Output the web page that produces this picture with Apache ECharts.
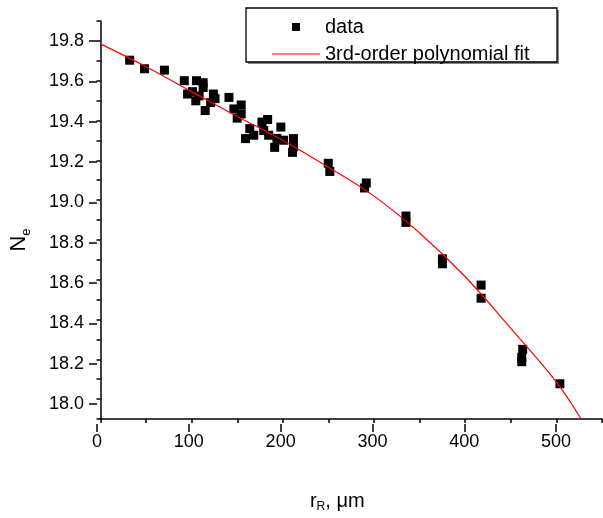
<!DOCTYPE html>
<html>
<head>
<meta charset="utf-8">
<script src="https://cdn.jsdelivr.net/npm/echarts@6/dist/echarts.min.js"></script>
<style>
html,body{margin:0;padding:0;background:#fff;}
#chart{width:603px;height:518px;}
</style>
</head>
<body>
<div id="chart"></div>
<script>
// ---- data ----
const dataR = [32, 48.3, 70.1, 91.9, 105.3, 112.6, 112.6, 95.5, 100.9, 104.5, 114.8, 123.8, 125.6, 120.8, 108.2,
  140.9, 146.3, 154.3, 149.9, 154.3, 163.7, 159, 168.1, 177.1, 183.3, 179, 184.4, 191, 197.8, 193.5, 200.8,
  211.6, 211.6, 210.6, 249.8, 251.5, 291.5, 289.6, 335, 335, 375, 375, 417.4, 417.4, 463, 462, 462, 503.8];
const dataN = [19.703, 19.660, 19.653, 19.600, 19.600, 19.590, 19.566, 19.533, 19.545, 19.499, 19.450, 19.533, 19.510, 19.490, 19.524,
  19.516, 19.458, 19.478, 19.412, 19.433, 19.359, 19.309, 19.326, 19.392, 19.405, 19.350, 19.326, 19.265, 19.367, 19.310, 19.301,
  19.309, 19.268, 19.240, 19.185, 19.144, 19.086, 19.061, 18.920, 18.888, 18.705, 18.680, 18.573, 18.507, 18.250, 18.210, 18.188, 18.077];
const fitR = [0, 50, 100, 150, 200, 250, 300, 350, 400, 450, 500, 527];
const fitN = [19.785, 19.670, 19.545, 19.420, 19.300, 19.165, 19.020, 18.835, 18.615, 18.355, 18.085, 17.900];
const xMajorTicks = [0, 100, 200, 300, 400, 500];
const yMajorTicks = [18.0, 18.2, 18.4, 18.6, 18.8, 19.0, 19.2, 19.4, 19.6, 19.8];
const seriesNames = ['data', '3rd-order polynomial fit'];

const FONT = 'Liberation Sans, Arial, sans-serif';
const scatterData = dataR.map((r, i) => [r, dataN[i]]);
const fitData = fitR.map((r, i) => [r, fitN[i]]);

// layout
const L = 97, R = 1, T = 21, B = 94;
const pxPerY = (518 - T - B) / 2.0;       // y: 17.9..19.9
const pxPerX = (603 - L - R) / 550;       // x: 0..550
const yOff = 0.1 * pxPerY;
const xRightOff = 50 * pxPerX;

const axisLineStyle = {color: '#000', width: 1.5};

const chart = echarts.init(document.getElementById('chart'), null, {renderer: 'canvas'});
chart.setOption({
  animation: false,
  backgroundColor: '#fff',
  grid: [
    {left: L, right: R, top: T, bottom: B},
    {left: L, right: R + xRightOff, top: T + yOff, bottom: B + yOff}
  ],
  xAxis: [
    {
      gridIndex: 0, type: 'value', min: 0, max: 550, interval: 50,
      axisLine: {show: true, lineStyle: axisLineStyle},
      axisTick: {show: true, length: 4, lineStyle: axisLineStyle},
      axisLabel: {show: false}, splitLine: {show: false},
      name: '{a|r}{b|R}{a|, μm}', nameLocation: 'middle', nameGap: 70,
      nameTextStyle: {padding: [0, 28, 0, 0], rich: {
        a: {fontSize: 20, fontFamily: FONT, color: '#000'},
        b: {fontSize: 12, fontFamily: FONT, color: '#000', padding: [12, 0, 0, 0]}
      }}
    },
    {
      gridIndex: 1, type: 'value', min: xMajorTicks[0], max: xMajorTicks[xMajorTicks.length - 1], interval: 100,
      offset: yOff,
      axisLine: {show: false},
      axisTick: {show: true, length: 8, lineStyle: axisLineStyle},
      axisLabel: {show: true, fontSize: 18, fontFamily: FONT, color: '#000', margin: 9},
      splitLine: {show: false}
    }
  ],
  yAxis: [
    {
      gridIndex: 0, type: 'value', min: 17.9, max: 19.9, interval: 0.1,
      axisLine: {show: true, lineStyle: axisLineStyle},
      axisTick: {show: true, length: 4, lineStyle: axisLineStyle},
      axisLabel: {show: false}, splitLine: {show: false},
      name: '{a|N}{b|e}', nameLocation: 'middle', nameGap: 68, nameRotate: 90,
      nameTextStyle: {padding: [0, 40, 0, 0], rich: {
        a: {fontSize: 22, fontFamily: FONT, color: '#000'},
        b: {fontSize: 13, fontFamily: FONT, color: '#000', padding: [14, 0, 0, 0]}
      }}
    },
    {
      gridIndex: 1, type: 'value', min: yMajorTicks[0], max: yMajorTicks[yMajorTicks.length - 1], interval: 0.2,
      axisLine: {show: false},
      axisTick: {show: true, length: 8, lineStyle: axisLineStyle},
      axisLabel: {show: true, fontSize: 18, fontFamily: FONT, color: '#000', margin: 13,
        formatter: v => v.toFixed(1)},
      splitLine: {show: false}
    }
  ],
  legend: {
    orient: 'vertical', left: 267, top: 12,
    itemWidth: 48, itemHeight: 8, itemGap: 7,
    textStyle: {fontSize: 20, fontFamily: FONT, color: '#000', lineHeight: 20},
    data: [
      {name: seriesNames[0], icon: 'path://M0,0L1,0L1,1L0,1Z'},
      {name: seriesNames[1], icon: 'path://M0,0L48,0L48,1.2L0,1.2Z'}
    ]
  },
  graphic: [
    {type: 'rect', shape: {x: 248, y: 10, width: 311, height: 54}, style: {fill: '#888', stroke: null}, z: 1},
    {type: 'rect', shape: {x: 246, y: 8, width: 311, height: 54}, style: {fill: '#fff', stroke: '#000', lineWidth: 1.3}, z: 2}
  ],
  series: [
    {
      name: seriesNames[0], type: 'scatter', xAxisIndex: 0, yAxisIndex: 0,
      symbol: 'rect', symbolSize: 9, itemStyle: {color: '#000', opacity: 1},
      data: scatterData, z: 3
    },
    {
      name: seriesNames[1], type: 'line', xAxisIndex: 0, yAxisIndex: 0,
      smooth: 0.4, showSymbol: false, symbol: 'none',
      lineStyle: {color: '#ff0000', width: 1.2}, itemStyle: {color: '#ff0000'},
      data: fitData, z: 4
    }
  ]
});
</script>
</body>
</html>
